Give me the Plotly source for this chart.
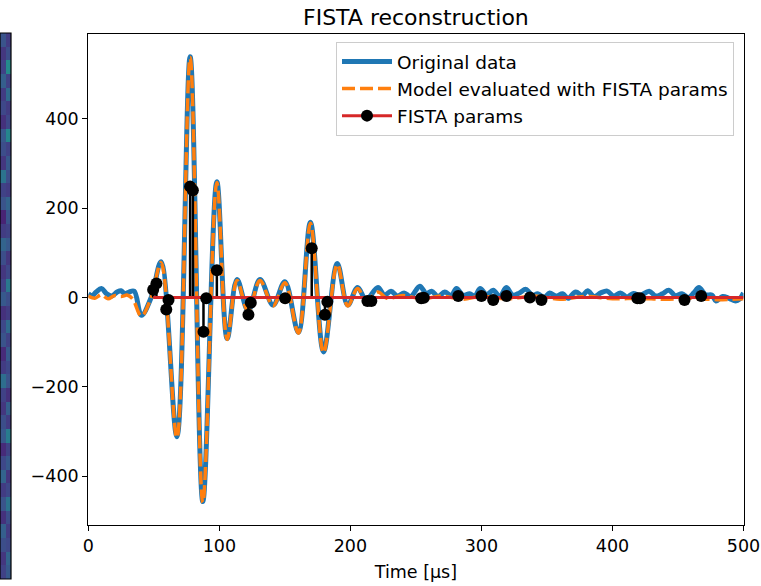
import plotly.graph_objects as go

# ---------------- data ----------------
time_data = [0, 3, 6, 10, 14, 18, 22, 25, 28, 31, 35, 40.5, 48, 55.5, 67.6, 77.7, 87.4, 98.1,
             106, 113.5, 122, 131, 141, 150, 160.3, 169.5, 179.5, 190, 198, 205.5, 212, 221,
             226, 231, 236, 241, 246, 253, 258, 262, 267, 272, 277, 281, 286, 291, 295, 299,
             304, 309, 314, 319, 324, 329, 334, 339, 343, 348, 352, 357, 362, 366, 372, 377,
             381, 386, 391, 396, 401, 406, 411, 416, 421, 428, 433, 438, 443, 448, 453, 458,
             462, 466, 471, 476, 479, 484, 489, 494, 497, 500]
original = [8, 4, 12, 20, 8, 3, 12, 15, 8, 12, 14, -40, 0, 80, -312, 539, -457, 259,
            -92, 40, -30, 40, -17, 35, -78, 168, -122, 76, -17, 22, -5, 22,
            5, 14, 3, 10, 2, 25, 8, 14, 2, 12, 4, 20, 5, 8, 3, 20,
            6, 16, 2, 22, 5, 10, 18, 4, 8, 0, 10, 3, 8, -2, 12, 4,
            15, 2, 10, 14, 3, 10, 1, 9, 4, 14, 3, 8, 16, 4, 8, 0,
            10, 22, 6, 5, -8, 2, -2, -8, -4, 10]

time_model = [0, 5, 10, 15, 20, 25, 30, 34, 40.5, 48, 55.5, 67.6, 77.7, 87.4, 98.1,
              106, 113.5, 122, 131, 141, 150, 160.3, 169.5, 179.5, 190, 198, 205.5, 212, 221,
              228, 240, 255, 270, 285, 300, 320, 340, 360, 380, 400, 420, 440, 460, 480, 500]
model = [3, -2, 6, -3, 4, 2, 5, -4, -42, 0, 78, -314, 537, -459, 257,
         -94, 38, -32, 38, -19, 33, -80, 166, -124, 74, -19, 20, -7, 12,
         -2, 4, -3, 3, -4, 2, -3, 3, -4, 2, -3, -2, -4, -2, -5, -3]

stem_t = [49.5, 52, 59.5, 61.2, 77.7, 79.8, 87.9, 90, 98.1, 122.2, 124, 150.2, 170.5,
          180.6, 182.4, 213, 216, 254, 256, 282.3, 300, 309, 319, 337, 345.8, 419, 421,
          455, 467.7]
stem_v = [17, 31, -27, -6, 248, 240, -77, -2, 61, -39, -12, -2, 110,
          -39, -10, -8, -8, -2, -1, 3, 3, -6, 3, 0, -6, -2, -2,
          -6, 3]

x_ticks = [0, 100, 200, 300, 400, 500]
y_ticks = [-400, -200, 0, 200, 400]

# edge of the neighbouring image panel (viridis values)
strip_vals = [[0.20, 0.28], [0.16, 0.32], [0.24, 0.22], [0.30, 0.18], [0.14, 0.24],
              [0.26, 0.38], [0.18, 0.22], [0.32, 0.16], [0.22, 0.28], [0.12, 0.20],
              [0.28, 0.42], [0.24, 0.18], [0.16, 0.30], [0.20, 0.14], [0.36, 0.26],
              [0.18, 0.22], [0.12, 0.28], [0.26, 0.20], [0.22, 0.34], [0.14, 0.18],
              [0.28, 0.24], [0.20, 0.40], [0.16, 0.22], [0.24, 0.16], [0.32, 0.28],
              [0.18, 0.20], [0.10, 0.26], [0.26, 0.32], [0.20, 0.18], [0.38, 0.24],
              [0.16, 0.28], [0.24, 0.20], [0.28, 0.46], [0.14, 0.22], [0.22, 0.18],
              [0.18, 0.34], [0.30, 0.20], [0.20, 0.48], [0.16, 0.24], [0.26, 0.18]]

# ---------------- figure ----------------
W, H = 761, 586
FONT = "DejaVu Sans"
x0p, x1p, ytop, ybot = 88.3, 743.5, 34.3, 525.0

fig = go.Figure()

fig.add_trace(go.Scatter(x=time_data, y=original, mode="lines", name="Original data",
                         line=dict(color="#1f77b4", width=5, shape="spline", smoothing=1.0)))
fig.add_trace(go.Scatter(x=time_model, y=model, mode="lines",
                         name="Model evaluated with FISTA params",
                         line=dict(color="#ff7f0e", width=3.5, dash="13px,5px",
                                   shape="spline", smoothing=1.0)))

sx, sy = [], []
for t, v in zip(stem_t, stem_v):
    sx += [t, t, None]
    sy += [0, v, None]
fig.add_trace(go.Scatter(x=sx, y=sy, mode="lines", showlegend=False,
                         line=dict(color="black", width=2.5), hoverinfo="skip"))
fig.add_trace(go.Scatter(x=[min(stem_t), time_data[-1]], y=[0, 0], mode="lines",
                         showlegend=False, line=dict(color="#d62728", width=3)))
fig.add_trace(go.Scatter(x=stem_t, y=stem_v, mode="markers", showlegend=False,
                         marker=dict(color="black", size=12)))
fig.add_trace(go.Scatter(x=[None], y=[None], mode="lines+markers", name="FISTA params",
                         line=dict(color="#d62728", width=3),
                         marker=dict(color="black", size=12)))

fig.add_trace(go.Heatmap(z=strip_vals, colorscale="Viridis", zmin=0, zmax=1,
                         showscale=False, xaxis="x2", yaxis="y2", hoverinfo="skip"))

fig.update_layout(
    width=W, height=H,
    margin=dict(l=0, r=0, t=0, b=0, pad=0, autoexpand=False),
    paper_bgcolor="white", plot_bgcolor="white",
    font=dict(family=FONT, size=17.5, color="black"),
    title=dict(text="FISTA reconstruction", x=(x0p + x1p) / 2 / W, xanchor="center",
               y=1 - 17 / H, yanchor="middle", yref="container",
               font=dict(family=FONT, size=22, color="black")),
    xaxis=dict(domain=[x0p / W, x1p / W], range=[0, 500], tickvals=x_ticks,
               showgrid=False, zeroline=False, showline=True, mirror=True,
               linecolor="black", linewidth=1.2, ticks="outside", ticklen=5,
               tickwidth=1.2, tickcolor="black", automargin=False,
               title=dict(text="Time [µs]", standoff=10,
                          font=dict(family=FONT, size=17.5))),
    yaxis=dict(domain=[(H - ybot) / H, (H - ytop) / H], range=[-509.5, 589],
               tickvals=y_ticks, showgrid=False, zeroline=False, showline=True,
               mirror=True, linecolor="black", linewidth=1.2, ticks="outside",
               ticklen=5, tickwidth=1.2, tickcolor="black", automargin=False),
    xaxis2=dict(domain=[0, 11 / W], visible=False, anchor="y2"),
    yaxis2=dict(domain=[7 / H, 553 / H], visible=False, anchor="x2"),
    legend=dict(x=734 / W, xanchor="right", y=1 - 42 / H, yanchor="top",
                bgcolor="rgba(255,255,255,0.8)", bordercolor="#cccccc", borderwidth=1,
                itemwidth=50, tracegroupgap=0,
                font=dict(family=FONT, size=18.5, color="black")),
    showlegend=True,
)
fig.add_shape(type="rect", xref="paper", yref="paper", x0=0, x1=11 / W,
              y0=7 / H, y1=553 / H, line=dict(color="black", width=1.2))

fig.write_html("out.html")
